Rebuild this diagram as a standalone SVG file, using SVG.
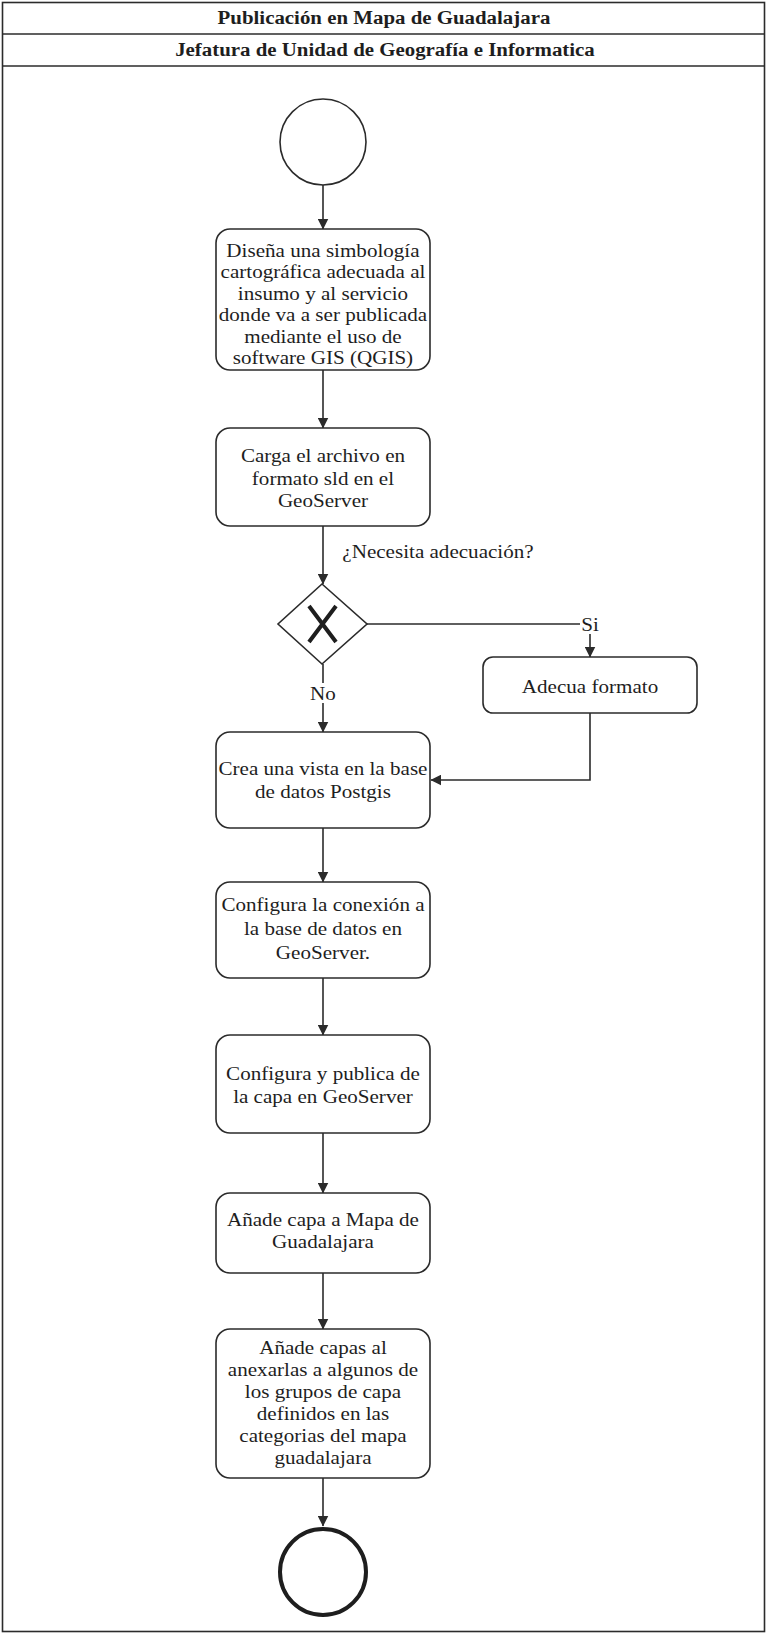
<svg xmlns="http://www.w3.org/2000/svg" width="767" height="1634" viewBox="0 0 767 1634" font-family="'Liberation Serif', serif">
<style>
.t{font-family:'Liberation Serif',serif;font-size:18.5px;fill:#1e1e1e;text-anchor:middle;transform-box:fill-box;transform-origin:center;transform:scaleX(1.14)}
.h{font-family:'Liberation Serif',serif;font-size:18px;font-weight:bold;fill:#1e1e1e;text-anchor:middle;transform-box:fill-box;transform-origin:center;transform:scaleX(1.16)}
.box{fill:#fff;stroke:#2b2b2b;stroke-width:1.6}
.c{fill:none;stroke:#2b2b2b;stroke-width:1.6}
.lbl{fill:#fff;stroke:none}
</style>
<defs>
<marker id="ah" viewBox="0 0 10 10" refX="9.5" refY="5" markerWidth="11" markerHeight="11" markerUnits="userSpaceOnUse" orient="auto">
<path d="M0,0 L10,5 L0,10 z" fill="#2b2b2b"/>
</marker>
</defs>
<rect x="0" y="0" width="767" height="1634" fill="#fff"/>
<g id="pool">
<rect x="2.5" y="2.5" width="762" height="1629" fill="none" stroke="#2b2b2b" stroke-width="1.6"/>
<line x1="2.5" y1="34" x2="764.5" y2="34" stroke="#2b2b2b" stroke-width="1.6"/>
<line x1="2.5" y1="66" x2="764.5" y2="66" stroke="#2b2b2b" stroke-width="1.6"/>
<text class="h" x="384" y="24">Publicación en Mapa de Guadalajara</text>
<text class="h" x="385" y="56">Jefatura de Unidad de Geografía e Informatica</text>
</g>
<g id="connectors">
<line class="c" x1="323" y1="185" x2="323" y2="229" marker-end="url(#ah)"/>
<line class="c" x1="323" y1="370" x2="323" y2="428" marker-end="url(#ah)"/>
<line class="c" x1="323" y1="526" x2="323" y2="584" marker-end="url(#ah)"/>
<text class="t" x="438" y="558">¿Necesita adecuación?</text>
<path class="c" d="M367,624 H590 V657" marker-end="url(#ah)"/>
<rect class="lbl" x="580" y="614" width="20" height="20"/>
<text class="t" x="590" y="631">Si</text>
<line class="c" x1="323" y1="664" x2="323" y2="732" marker-end="url(#ah)"/>
<rect class="lbl" x="310" y="683" width="26" height="20"/>
<text class="t" x="323" y="700">No</text>
<path class="c" d="M590,713 V780 H431" marker-end="url(#ah)"/>
<line class="c" x1="323" y1="828" x2="323" y2="882" marker-end="url(#ah)"/>
<line class="c" x1="323" y1="978" x2="323" y2="1035" marker-end="url(#ah)"/>
<line class="c" x1="323" y1="1133" x2="323" y2="1193" marker-end="url(#ah)"/>
<line class="c" x1="323" y1="1273" x2="323" y2="1329" marker-end="url(#ah)"/>
<line class="c" x1="323" y1="1478" x2="323" y2="1526" marker-end="url(#ah)"/>
</g>
<g id="start">
<circle cx="323" cy="142" r="43" fill="#fff" stroke="#2b2b2b" stroke-width="1.6"/>
</g>
<g id="n1">
<rect class="box" x="216" y="229" width="214" height="141" rx="14"/>
<text class="t" x="323" y="257">Diseña una simbología</text>
<text class="t" x="323" y="278.5">cartográfica adecuada al</text>
<text class="t" x="323" y="300">insumo y al servicio</text>
<text class="t" x="323" y="321.5">donde va a ser publicada</text>
<text class="t" x="323" y="343">mediante el uso de</text>
<text class="t" x="323" y="364.5">software GIS (QGIS)</text>
</g>
<g id="n2">
<rect class="box" x="216" y="428" width="214" height="98" rx="14"/>
<text class="t" x="323" y="462">Carga el archivo en</text>
<text class="t" x="323" y="485">formato sld en el</text>
<text class="t" x="323" y="507">GeoServer</text>
</g>
<g id="gateway">
<polygon points="322,584 367,624 322,664 278,624" fill="#fff" stroke="#2b2b2b" stroke-width="1.6"/>
<path d="M309,606 L336,642 M336,606 L309,642" stroke="#1e1e1e" stroke-width="4" fill="none"/>
</g>
<g id="n_adecua">
<rect class="box" x="483" y="657" width="214" height="56" rx="10"/>
<text class="t" x="590" y="693">Adecua formato</text>
</g>
<g id="n3">
<rect class="box" x="216" y="732" width="214" height="96" rx="14"/>
<text class="t" x="323" y="775">Crea una vista en la base</text>
<text class="t" x="323" y="798">de datos Postgis</text>
</g>
<g id="n4">
<rect class="box" x="216" y="882" width="214" height="96" rx="14"/>
<text class="t" x="323" y="911">Configura la conexión a</text>
<text class="t" x="323" y="935">la base de datos en</text>
<text class="t" x="323" y="959">GeoServer.</text>
</g>
<g id="n5">
<rect class="box" x="216" y="1035" width="214" height="98" rx="14"/>
<text class="t" x="323" y="1080">Configura y publica de</text>
<text class="t" x="323" y="1103">la capa en GeoServer</text>
</g>
<g id="n6">
<rect class="box" x="216" y="1193" width="214" height="80" rx="14"/>
<text class="t" x="323" y="1226">Añade capa a Mapa de</text>
<text class="t" x="323" y="1248">Guadalajara</text>
</g>
<g id="n7">
<rect class="box" x="216" y="1329" width="214" height="149" rx="14"/>
<text class="t" x="323" y="1354">Añade capas al</text>
<text class="t" x="323" y="1376">anexarlas a algunos de</text>
<text class="t" x="323" y="1398">los grupos de capa</text>
<text class="t" x="323" y="1420">definidos en las</text>
<text class="t" x="323" y="1442">categorias del mapa</text>
<text class="t" x="323" y="1464">guadalajara</text>
</g>
<g id="end">
<circle cx="323" cy="1572" r="43" fill="#fff" stroke="#1e1e1e" stroke-width="4"/>
</g>
</svg>
